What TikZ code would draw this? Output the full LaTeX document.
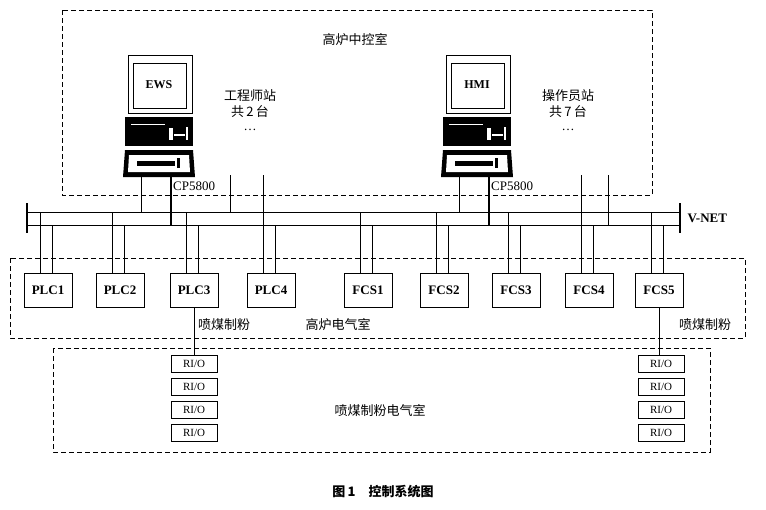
\documentclass[tikz,border=0pt]{standalone}
\usepackage{fontspec}
\setmainfont{Liberation Serif}
\newfontfamily\cjk{Noto Sans CJK SC}
\usetikzlibrary{positioning}
\tikzset{
  unit/.style={draw,thick,minimum width=48pt,minimum height=34pt,inner sep=0pt,font=\bfseries\fontsize{13}{13}\selectfont},
  rio/.style={draw,minimum width=46pt,minimum height=17pt,inner sep=0pt,font=\fontsize{11}{11}\selectfont},
  room/.style={draw,thick,dashed,dash pattern=on 5pt off 3pt},
  zh/.style={font=\cjk\fontsize{13}{16}\selectfont,align=center},
  link/.style={thick}
}
\begin{document}
\begin{tikzpicture}[x=1pt,y=-1pt]
  \useasboundingbox (0,0) rectangle (766,509);

  % rooms
  \draw[room] (62,10) rectangle (652,195);
  \draw[room] (10,258) rectangle (745,338);
  \draw[room] (53,348) rectangle (710,452);
  \node[zh] (top) at (355,40) {高炉中控室};
  \node[zh] (mid) at (338,325) {高炉电气室};
  \node[zh] (low) at (380,410) {喷煤制粉电气室};

  % V-NET bus
  \coordinate (bt0) at (27,212);
  \coordinate (bt1) at (680,212);
  \coordinate (bb0) at (27,225);
  \coordinate (bb1) at (680,225);
  \draw[link] (bt0) -- (bt1);
  \draw[link] (bb0) -- (bb1);
  \draw[very thick] (27,203) -- (27,233);
  \draw[very thick] (680,203) -- (680,233);
  \node[font=\bfseries\fontsize{13}{13}\selectfont,right=4pt of bt1,yshift=-6pt] (vnet) {V-NET};

  % stations
  \foreach \cx/\nm/\lb in {157/ews/EWS,475/hmi/HMI}
  {
    \draw[thick] (\cx-29,55) rectangle (\cx+35,113);
    \draw[thick] (\cx-24,63) rectangle (\cx+29,108);
    \node[font=\bfseries\fontsize{12}{12}\selectfont] (\nm) at (\cx+2,85) {\lb};
    \fill (\cx-32,117) rectangle (\cx+36,146);
    \fill[white] (\cx+12,128) rectangle (\cx+16,140);
    \fill[white] (\cx+17,134) rectangle (\cx+28,136);
    \fill[white] (\cx+29,127) rectangle (\cx+31,140);
    \fill[white] (\cx-26,124) rectangle (\cx+8,125);
    \fill (\cx-32,150) -- (\cx+36,150) -- (\cx+38,177) -- (\cx-34,177) -- cycle;
    \fill[white] (\cx-28,155) -- (\cx+32,155) -- (\cx+33,172) -- (\cx-29,172) -- cycle;
    \fill (\cx-20,161) rectangle (\cx+18,166);
    \fill (\cx+20,158) rectangle (\cx+23,168);
    \coordinate (\nm a) at (\cx-16,177);
    \coordinate (\nm b) at (\cx+14,177);
  }
  \foreach \nm in {ews,hmi}
  {
    \draw[link] (\nm a) -- (\nm a |- bt0);
    \draw[line width=1.4pt] (\nm b) -- (\nm b |- bb0);
    \node[font=\fontsize{13}{13}\selectfont,anchor=west,inner sep=1pt] (\nm cp) at ([xshift=1pt,yshift=-9pt]\nm b) {CP5800};
  }
  \node[zh] (ewsinfo) at (250,110) {工程师站\\共\,2\,台\\[-2pt]{\rmfamily\dots}};
  \node[zh] (hmiinfo) at (568,110) {操作员站\\共\,7\,台\\[-2pt]{\rmfamily\dots}};

  % extra links from the control room
  \coordinate (xa) at (230,175);
  \coordinate (xb) at (608,175);
  \draw[link] (xa) -- (xa |- bt0);
  \draw[link] (xb) -- (xb |- bb0);

  % controllers
  \foreach \cx/\nm/\lb in {48/plc1/PLC1,120/plc2/PLC2,194/plc3/PLC3,271/plc4/PLC4,
                           368/fcs1/FCS1,444/fcs2/FCS2,516/fcs3/FCS3,589/fcs4/FCS4,659/fcs5/FCS5}
  {
    \node[unit] (\nm) at (\cx,290) {\lb};
    \path ([xshift=-8pt]\nm.north) coordinate (\nm a);
    \path ([xshift=4pt]\nm.north) coordinate (\nm b);
    \draw[link] (\nm a) -- (\nm a |- bt0);
    \draw[link] (\nm b) -- (\nm b |- bb0);
  }
  \draw[link] (plc4a) -- (plc4a |- xa);
  \draw[link] (fcs4a) -- (fcs4a |- xa);

  % remote I/O
  \foreach \cx/\nm in {194/l,661/r}
  {
    \foreach \i/\y in {1/364,2/387,3/410,4/433}
      \node[rio] (rio\nm\i) at (\cx,\y) {RI/O};
  }
  \draw[link] (plc3.south) -- (plc3.south |- riol1.north);
  \draw[link] (fcs5.south) -- (fcs5.south |- rior1.north);
  \node[zh] (pj1) at (224,325) {喷煤制粉};
  \node[zh] (pj2) at (705,325) {喷煤制粉};

  % caption
  \node[font=\cjk\bfseries\fontsize{13}{13}\selectfont] (cap) at (383,492) {图\,1\quad 控制系统图};
\end{tikzpicture}
\end{document}
